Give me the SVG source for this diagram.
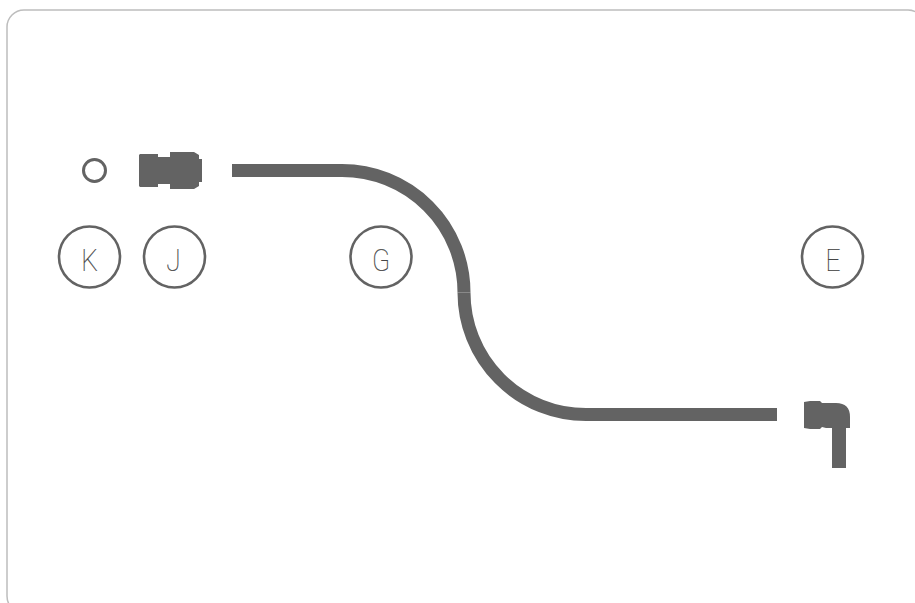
<svg xmlns="http://www.w3.org/2000/svg" width="915" height="603" viewBox="0 0 915 603">
<style>
.frame{fill:none;stroke:#bdbdbd;stroke-width:1.5}
.part{fill:#636363;stroke:none}
.tube{fill:none;stroke:#636363;stroke-width:13}
.ring{fill:#fff;stroke:#636363;stroke-width:2.6}
.lbl{font-family:Roboto,"Liberation Sans",sans-serif;font-weight:100;font-size:31px;fill:#444;stroke:#444;stroke-width:.25;text-anchor:middle;opacity:.99}
</style>
<rect width="915" height="603" fill="#fff"/>
<rect class="frame" x="7" y="10" width="918" height="603" rx="17" ry="17"/>
<g id="connectors">
<path class="tube" d="M232 170.500H342"/>
<path class="tube" d="M342 170.500A122 122 0 0 1 464 292.500"/>
<path class="tube" d="M464 292.500A122 122 0 0 0 586 414.500"/>
<path class="tube" d="M586 414.500H777"/>
</g>
<g id="node-small-ring"><circle cx="94.500" cy="170.500" r="11" fill="none" stroke="#636363" stroke-width="3"/></g>
<g id="node-connector-j"><path class="part" d="M140 154H158V157H170V152H194L199 155V159H202V182H199V186L194 189H170V184H158V187H140L139 186V155Z"/></g>
<g id="node-connector-e"><path class="part" d="M804 402L810 401H820L822 403H836Q850 403 850 417V428H846V468H832V428H826L822 427L820 429H810L804 428Z"/></g>
<g id="node-k"><circle class="ring" cx="89.500" cy="257" r="30.500"/><text class="lbl" transform="translate(89.500 271) scale(.85 1)">K</text></g>
<g id="node-j"><circle class="ring" cx="174.500" cy="257" r="30.500"/><text class="lbl" transform="translate(173.500 271) scale(.85 1)">J</text></g>
<g id="node-g"><circle class="ring" cx="381" cy="257" r="30.500"/><text class="lbl" transform="translate(381 271) scale(.85 1)">G</text></g>
<g id="node-e"><circle class="ring" cx="832.500" cy="257" r="30.500"/><text class="lbl" transform="translate(833 271) scale(.85 1)">E</text></g>
</svg>
